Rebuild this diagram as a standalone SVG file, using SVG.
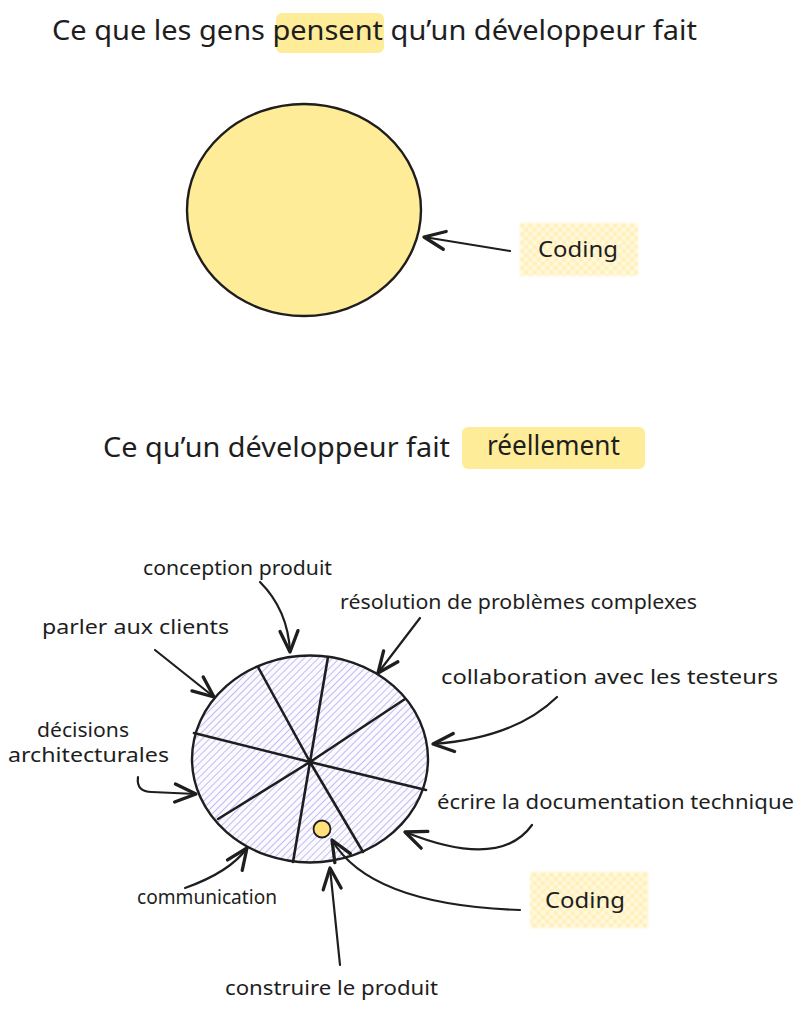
<svg xmlns="http://www.w3.org/2000/svg" width="800" height="1009" viewBox="0 0 800 1009">
  <style>
    .txt { font-family: "Noto Sans", "Liberation Sans", sans-serif; fill: #1e1e1e; }
    .title { font-size: 27px; }
    .label { font-size: 19px; }
    .code { font-size: 22px; }
    .stroke { fill: none; stroke: #1e1e1e; stroke-width: 2.6; stroke-linecap: round; stroke-linejoin: round; }
    .conn { fill: none; stroke: #1e1e1e; stroke-width: 2.2; stroke-linecap: round; marker-end: url(#arrow); }
    .hl { fill: #ffec99; }
  </style>
  <defs>
    <marker id="arrow" markerUnits="userSpaceOnUse" markerWidth="30" markerHeight="30" viewBox="-16 -10 20 20" refX="0" refY="0" orient="auto">
      <path d="M -14 -6 L 0 0 L -14 6" fill="none" stroke="#1e1e1e" stroke-width="2.2" stroke-linecap="round" stroke-linejoin="round"/>
    </marker>
    <!-- diagonal hachure for the activity pie -->
    <pattern id="hachure" patternUnits="userSpaceOnUse" width="5" height="5" patternTransform="rotate(45)">
      <rect width="5" height="5" fill="#fbfaff"/>
      <line x1="0" y1="0" x2="0" y2="5" stroke="#a8a2ec" stroke-width="1.4"/>
    </pattern>
    <!-- yellow cross-hatch for the "Coding" tags -->
    <pattern id="cross" patternUnits="userSpaceOnUse" width="6" height="6" patternTransform="rotate(45)">
      <rect width="6" height="6" fill="#fffbe6"/>
      <line x1="0" y1="0" x2="0" y2="6" stroke="#ffdf70" stroke-width="1.6"/>
      <line x1="0" y1="0" x2="6" y2="0" stroke="#ffdf70" stroke-width="1.6"/>
    </pattern>
    <filter id="soft" x="-10%" y="-20%" width="120%" height="140%">
      <feGaussianBlur stdDeviation="1"/>
    </filter>
  </defs>

  <rect width="800" height="1009" fill="#ffffff"/>

  <!-- Upper section: the common belief -->
  <g id="title-top">
    <rect class="hl" x="276" y="13" width="108" height="40" rx="6"/>
    <text class="txt title" x="52" y="40" textLength="645" lengthAdjust="spacingAndGlyphs">Ce que les gens pensent qu’un développeur fait</text>
  </g>

  <g id="circle-top">
    <ellipse cx="304" cy="210" rx="117" ry="106" fill="#ffec99" stroke="#1e1e1e" stroke-width="2.4"/>
  </g>

  <g id="coding-top">
    <rect x="520" y="223" width="118" height="53" fill="url(#cross)" filter="url(#soft)"/>
    <text class="txt code" x="538" y="257" textLength="80" lengthAdjust="spacingAndGlyphs">Coding</text>
  </g>

  <!-- Lower section: the reality -->
  <g id="title-bottom">
    <rect class="hl" x="462" y="427" width="183" height="42" rx="6"/>
    <text class="txt title" x="103" y="457" textLength="347" lengthAdjust="spacingAndGlyphs">Ce qu’un développeur fait</text>
    <text class="txt title" x="487" y="455" textLength="133" lengthAdjust="spacingAndGlyphs">réellement</text>
  </g>

  <g id="pie">
    <ellipse cx="310" cy="759" rx="118" ry="103.5" fill="url(#hachure)" stroke="#1e1e1e" stroke-width="2.4"/>
    <path class="stroke" d="M 310 762 L 258 667 M 310 762 L 328 657 M 310 762 L 405 699 M 310 762 L 194 733 M 310 762 L 426 790 M 310 762 L 218 819 M 310 762 L 293 862 M 310 762 L 363 852"/>
    <circle cx="322" cy="829" r="8.5" fill="#ffe07a" stroke="#1e1e1e" stroke-width="1.8"/>
  </g>

  <g id="coding-bottom">
    <rect x="530" y="872" width="118" height="56" fill="url(#cross)" filter="url(#soft)"/>
    <text class="txt code" x="545" y="908" textLength="80" lengthAdjust="spacingAndGlyphs">Coding</text>
  </g>

  <g id="labels">
    <text class="txt label" x="143" y="575" textLength="189" lengthAdjust="spacingAndGlyphs">conception produit</text>
    <text class="txt label" x="340" y="609" textLength="357" lengthAdjust="spacingAndGlyphs">résolution de problèmes complexes</text>
    <text class="txt label" x="42" y="634" textLength="187" lengthAdjust="spacingAndGlyphs">parler aux clients</text>
    <text class="txt label" x="441" y="684" textLength="337" lengthAdjust="spacingAndGlyphs">collaboration avec les testeurs</text>
    <text class="txt label" x="37" y="737" textLength="92" lengthAdjust="spacingAndGlyphs">décisions</text>
    <text class="txt label" x="8" y="762" textLength="161" lengthAdjust="spacingAndGlyphs">architecturales</text>
    <text class="txt label" x="437" y="809" textLength="357" lengthAdjust="spacingAndGlyphs">écrire la documentation technique</text>
    <text class="txt label" x="137" y="904" textLength="140" lengthAdjust="spacingAndGlyphs">communication</text>
    <text class="txt label" x="225" y="995" textLength="213" lengthAdjust="spacingAndGlyphs">construire le produit</text>
  </g>

  <g id="connectors">
    <path class="conn" d="M 510 251 L 424 237"/>
    <path class="conn" d="M 260 582 Q 288 610 290 652"/>
    <path class="conn" d="M 420 618 L 378 673"/>
    <path class="conn" d="M 155 650 L 214 697"/>
    <path class="conn" d="M 557 697 Q 515 738 433 744"/>
    <path class="conn" d="M 138 777 Q 136 792 152 792 L 196 794"/>
    <path class="conn" d="M 532 825 Q 500 870 405 832"/>
    <path class="conn" d="M 185 888 Q 230 872 247 848"/>
    <path class="conn" d="M 340 965 L 330 868"/>
    <path class="conn" d="M 520 910 Q 370 905 332 840"/>
  </g>
</svg>
